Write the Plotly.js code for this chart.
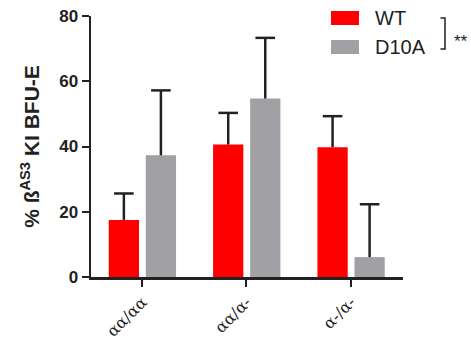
<!DOCTYPE html>
<html>
<head>
<meta charset="utf-8">
<script src="https://cdn.plot.ly/plotly-3.0.1.min.js"></script>
<style>html,body{margin:0;padding:0;background:#fff;}#chart{width:471px;height:347px;}</style>
</head>
<body>
<div id="chart"></div>
<script>
const categories = ["αα/αα", "αα/α-", "α-/α-"];
const seriesNames = ["WT", "D10A"];
const wtMeans = [17.5, 40.6, 39.8];
const wtErrors = [8.1, 9.7, 9.5];
const d10aMeans = [37.3, 54.7, 6.1];
const d10aErrors = [19.9, 18.6, 16.2];
const yTicks = [0, 20, 40, 60, 80];
const significance = "**";

const L = 91, R = 68, T = 16, B = 70, Wd = 471, Ht = 347;
const PW = Wd - L - R, PH = Ht - T - B;
const px = x => (x - L) / PW;
const py = y => (Ht - B - y) / PH;

const red = "#ff0000", gray = "#a1a0a5", ink = "#222222";
const catPos = categories.map((c, i) => i);
const barW = 0.29;
const series = [
  {name: seriesNames[0], means: wtMeans, errs: wtErrors, color: red, offset: -0.32},
  {name: seriesNames[1], means: d10aMeans, errs: d10aErrors, color: gray, offset: 0.035}
];

const traces = [];
series.forEach(s => {
  traces.push({type: "bar", name: s.name, x: catPos, y: s.means,
    width: barW, offset: s.offset, marker: {color: s.color, line: {width: 0}},
    error_y: {type: "data", array: s.errs, arrayminus: s.means.map(() => 0), symmetric: false, color: ink, thickness: 2.5, width: 0}});
});
series.forEach(s => {
  traces.push({type: "scatter", mode: "markers", showlegend: false, hoverinfo: "skip",
    x: catPos.map(p => p + s.offset + barW / 2), y: s.means.map((m, i) => m + s.errs[i]),
    marker: {symbol: "line-ew", size: 14, line: {color: ink, width: 2.5}}, cliponaxis: false});
});

const legendRows = [{name: seriesNames[0], color: red, yc: 18}, {name: seriesNames[1], color: gray, yc: 47}];
const shapes = [];
const annotations = [];
legendRows.forEach(r => {
  shapes.push({type: "rect", xref: "paper", yref: "paper", x0: px(331), x1: px(359), y0: py(r.yc + 7), y1: py(r.yc - 7), fillcolor: r.color, line: {width: 0}});
  annotations.push({xref: "paper", yref: "paper", x: px(373), y: py(r.yc), xanchor: "left", yanchor: "middle", text: r.name, showarrow: false, font: {family: "Liberation Sans, Arial", size: 20, color: ink}});
});
shapes.push({type: "path", xref: "paper", yref: "paper",
  path: `M ${px(440.5)} ${py(18)} L ${px(445)} ${py(18)} L ${px(445)} ${py(49)} L ${px(440.5)} ${py(49)}`,
  line: {color: ink, width: 1.5}});
annotations.push({xref: "paper", yref: "paper", x: px(452), y: py(41), xanchor: "left", yanchor: "middle", text: significance, showarrow: false, font: {family: "Liberation Sans, Arial", size: 17, color: ink}});

const layout = {
  width: Wd, height: Ht,
  margin: {l: L, r: R, t: T, b: B, pad: 0},
  paper_bgcolor: "#fff", plot_bgcolor: "#fff",
  showlegend: false,
  barmode: "overlay",
  xaxis: {
    range: [-0.49, 2.5], tickvals: catPos, ticktext: categories,
    showgrid: false, zeroline: false,
    showline: true, linecolor: ink, linewidth: 2.5,
    ticks: "outside", ticklen: 7, tickwidth: 2, tickcolor: ink,
    tickangle: -45, ticklabelstandoff: 0,
    tickfont: {family: "DejaVu Serif", size: 16, color: ink},
    automargin: false,
    fixedrange: true
  },
  yaxis: {
    range: [0, 80], tickvals: yTicks, showgrid: false, zeroline: false,
    showline: true, linecolor: ink, linewidth: 2.5,
    ticks: "outside", ticklen: 7, tickwidth: 2, tickcolor: ink,
    tickfont: {family: "Liberation Sans, Arial", size: 17, color: ink, weight: "bold"},
    title: {text: "% ß<sup>AS3</sup> KI BFU-E", font: {family: "Liberation Sans, Arial", size: 21, color: ink, weight: "bold"}, standoff: 14},
    automargin: false,
    fixedrange: true
  },
  shapes: shapes,
  annotations: annotations
};

Plotly.newPlot("chart", traces, layout, {displayModeBar: false, staticPlot: true});
</script>
</body>
</html>
